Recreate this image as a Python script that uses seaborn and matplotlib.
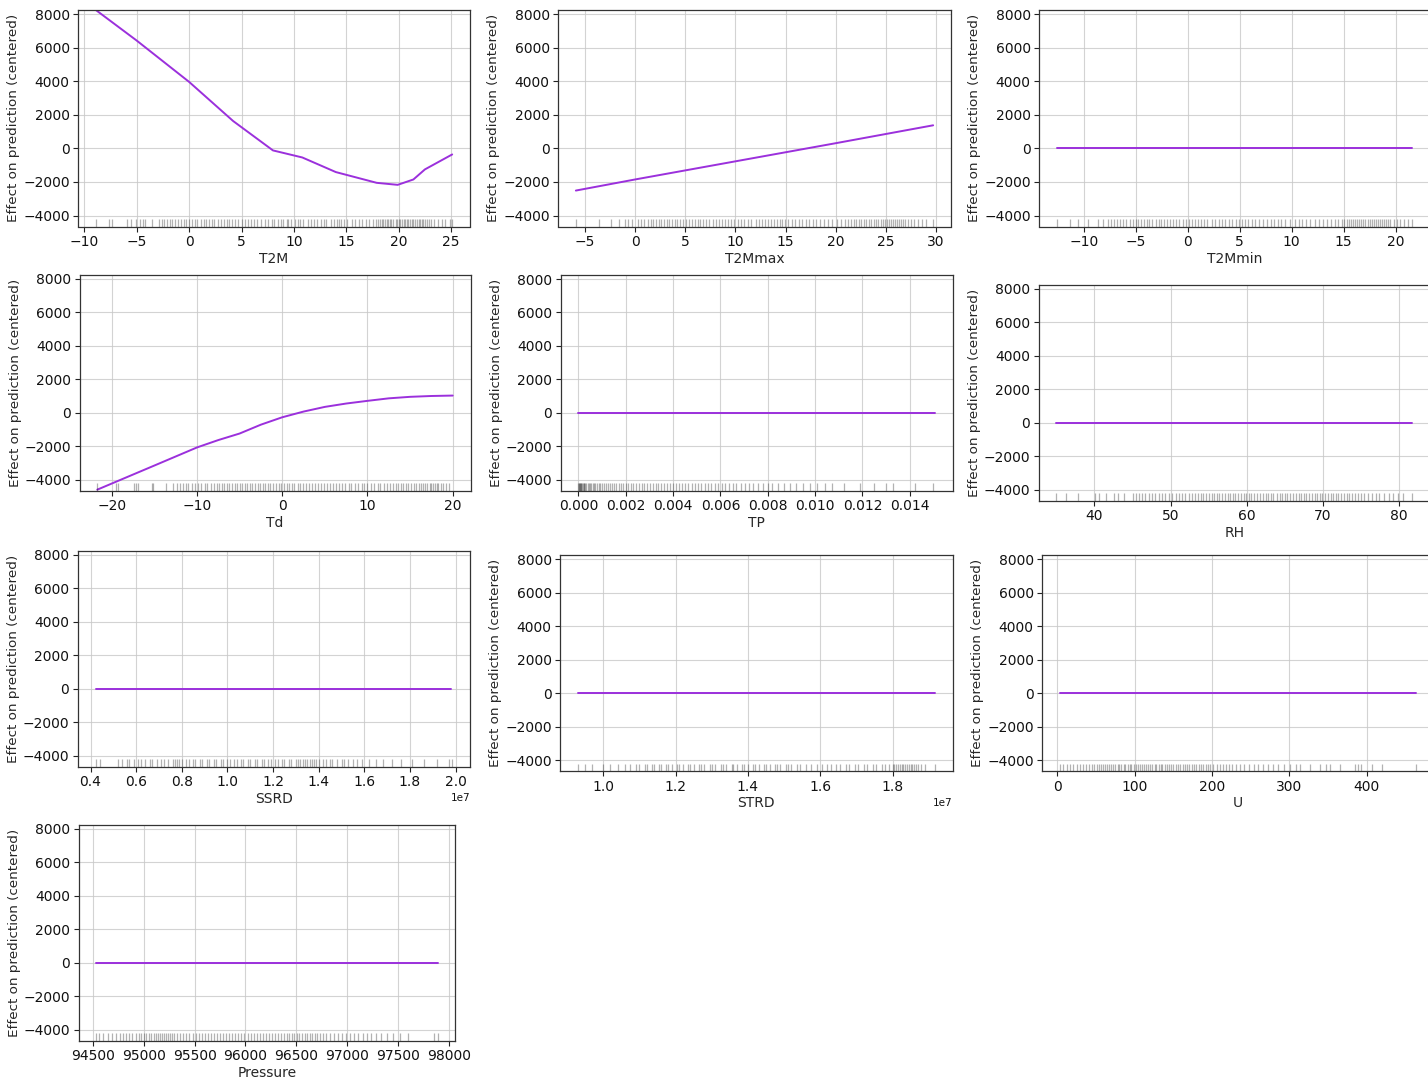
import numpy as np
import pandas as pd
import matplotlib
matplotlib.use("Agg")
import matplotlib.pyplot as plt
import seaborn as sns

# ---------------- data ----------------
features = ["T2M", "T2Mmax", "T2Mmin", "Td", "TP", "RH", "SSRD", "STRD", "U", "Pressure"]

T2M_x = [-8.9, -5.0, 0.0, 4.2, 8.0, 10.8, 14.0, 17.9, 19.9, 21.4, 22.5, 25.1]
T2M_y = [8240, 6420, 3960, 1630, -120, -540, -1410, -2050, -2170, -1850, -1250, -360]

T2Mmax_x = [-5.9, 0.0, 10.0, 20.0, 29.7]
T2Mmax_y = [-2510, -1850, -770, 310, 1375]

T2Mmin_x = [-12.6, 21.6]
T2Mmin_y = [0, 0]

Td_x = [-21.7, -15.0, -10.0, -7.5, -5.0, -2.5, 0.0, 2.5, 5.0, 7.5, 10.0, 12.5, 15.0, 17.5, 20.0]
Td_y = [-4600, -3160, -2080, -1640, -1250, -720, -280, 60, 340, 540, 700, 850, 940, 990, 1015]

TP_x = [0.0, 0.01505]
TP_y = [0, 0]

RH_x = [35.0, 81.7]
RH_y = [0, 0]

SSRD_x = [4.22e6, 1.978e7]
SSRD_y = [0, 0]

STRD_x = [9.30e6, 1.917e7]
STRD_y = [0, 0]

U_x = [3.4, 463.7]
U_y = [0, 0]

Pressure_x = [94530, 97893]
Pressure_y = [0, 0]

T2M_rug = [-8.9, -7.6, -7.4, -5.9, -5.5, -5.1, -4.7, -4.4, -4.2, -3.5, -2.9, -2.6, -2.4, -2.1, -1.8,
           -1.6, -1.3, -1.1, -0.8, -0.5, -0.3, 0.0, 0.3, 0.6, 0.8, 1.1, 1.4, 1.6, 1.9, 2.2, 2.4, 2.8,
           3.0, 3.3, 3.6, 3.8, 4.1, 4.4, 4.7, 5.0, 5.3, 5.6, 5.9, 6.2, 6.5, 6.9, 7.2, 7.5, 7.9, 8.1,
           8.5, 8.8, 9.0, 9.3, 9.4, 9.7, 10.1, 10.4, 10.6, 10.9, 11.3, 11.6, 11.9, 12.2, 12.6, 12.9,
           13.1, 13.5, 13.8, 14.1, 14.3, 14.5, 14.8, 15.1, 15.5, 15.8, 16.2, 16.5, 16.9, 17.2, 17.5,
           17.8, 18.0, 18.2, 18.4, 18.5, 18.7, 18.9, 19.0, 19.2, 19.3, 19.5, 19.7, 19.8, 20.0, 20.1,
           20.3, 20.5, 20.6, 20.8, 20.9, 21.1, 21.3, 21.4, 21.6, 21.7, 21.9, 22.0, 22.2, 22.3, 22.5,
           22.7, 22.9, 23.1, 23.4, 23.7, 24.1, 24.4, 24.9, 25.1]
T2Mmax_rug = [-5.9, -3.6, -2.4, -1.6, -1.0, -0.7, -0.3, 0.3, 0.6, 0.9, 1.3, 1.6, 1.8, 2.1, 2.4, 2.6,
              2.9, 3.2, 3.4, 3.7, 4.0, 4.2, 4.5, 4.8, 5.1, 5.4, 5.7, 6.0, 6.3, 6.5, 6.8, 7.1, 7.4, 7.8,
              8.1, 8.4, 8.7, 9.0, 9.3, 9.6, 9.9, 10.3, 10.6, 10.9, 11.3, 11.6, 12.0, 12.3, 12.6, 12.9,
              13.2, 13.5, 13.8, 14.1, 14.4, 14.6, 14.9, 15.2, 15.6, 15.9, 16.3, 16.6, 17.0, 17.3, 17.7,
              18.0, 18.4, 18.8, 19.2, 19.6, 20.1, 20.5, 20.9, 21.2, 21.5, 21.8, 22.0, 22.3, 22.5, 22.8,
              23.0, 23.3, 23.5, 23.8, 24.0, 24.2, 24.5, 24.7, 24.9, 25.1, 25.3, 25.5, 25.7, 25.9, 26.1,
              26.3, 26.5, 26.7, 26.9, 27.2, 27.5, 27.8, 28.2, 28.6, 29.0, 29.7]
T2Mmin_rug = [-12.6, -11.3, -10.6, -9.6, -8.6, -8.2, -7.7, -7.4, -7.1, -6.8, -6.5, -6.2, -5.9, -5.6,
              -5.3, -5.0, -4.8, -4.5, -4.2, -3.9, -3.7, -3.4, -3.1, -2.8, -2.6, -2.3, -2.0, -1.7, -1.4,
              -1.1, -0.8, -0.5, -0.2, 0.1, 0.4, 0.7, 1.0, 1.3, 1.6, 1.9, 2.3, 2.6, 3.0, 3.3, 3.6, 4.0,
              4.3, 4.6, 4.9, 5.2, 5.5, 5.8, 6.2, 6.5, 6.9, 7.2, 7.6, 8.0, 8.3, 8.7, 9.0, 9.4, 9.8,
              10.3, 10.7, 11.0, 11.4, 11.8, 12.2, 12.6, 13.0, 13.4, 13.8, 14.2, 14.5, 14.8, 15.0, 15.3,
              15.5, 15.7, 15.9, 16.1, 16.3, 16.5, 16.7, 16.9, 17.1, 17.3, 17.5, 17.7, 17.9, 18.1, 18.3,
              18.5, 18.7, 18.9, 19.1, 19.3, 19.5, 19.8, 20.1, 20.4, 20.8, 21.2, 21.6]
Td_rug = [-21.7, -19.5, -19.3, -17.4, -17.2, -16.9, -15.3, -15.2, -13.6, -12.8, -12.4, -12.0, -11.7,
          -11.3, -11.0, -10.6, -10.2, -9.9, -9.5, -9.1, -8.8, -8.4, -8.0, -7.7, -7.4, -7.1, -6.8, -6.5,
          -6.2, -5.9, -5.6, -5.3, -5.0, -4.7, -4.4, -4.1, -3.8, -3.5, -3.2, -2.9, -2.6, -2.3, -2.0,
          -1.7, -1.4, -1.1, -0.7, -0.4, -0.1, 0.2, 0.5, 0.8, 1.1, 1.4, 1.8, 2.1, 2.4, 2.8, 3.1, 3.5,
          3.8, 4.2, 4.6, 4.9, 5.3, 5.6, 6.0, 6.3, 6.7, 7.0, 7.4, 7.8, 8.1, 8.5, 8.9, 9.3, 9.6, 10.0,
          10.4, 10.8, 11.2, 11.5, 11.9, 12.3, 12.6, 13.0, 13.3, 13.6, 13.9, 14.2, 14.5, 14.8, 15.1,
          15.4, 15.7, 16.0, 16.3, 16.5, 16.8, 17.0, 17.3, 17.5, 17.7, 17.9, 18.1, 18.3, 18.6, 18.9,
          19.2, 19.6]
TP_rug = [0.0, 0.00001, 0.00003, 0.00005, 0.00007, 0.0001, 0.00012, 0.00015, 0.00018, 0.00022,
          0.00026, 0.0003, 0.00034, 0.00039, 0.00044, 0.00049, 0.00054, 0.0006, 0.00066, 0.00072,
          0.00079, 0.00086, 0.00093, 0.001, 0.00108, 0.00116, 0.00124, 0.00133, 0.00142, 0.00151,
          0.0016, 0.0017, 0.0018, 0.0019, 0.002, 0.00211, 0.00222, 0.00233, 0.00244, 0.00256,
          0.00267, 0.00279, 0.0029, 0.00302, 0.00314, 0.00326, 0.00338, 0.0035, 0.00363, 0.00375,
          0.00388, 0.004, 0.00413, 0.00426, 0.00439, 0.00452, 0.00465, 0.00478, 0.00492, 0.00505,
          0.00519, 0.00533, 0.00547, 0.00561, 0.00576, 0.0059, 0.00605, 0.0062, 0.00636, 0.00652,
          0.00668, 0.00685, 0.00702, 0.0072, 0.00739, 0.00758, 0.00778, 0.00799, 0.0082, 0.00843,
          0.00868, 0.00895, 0.0092, 0.0095, 0.0098, 0.0101, 0.0104, 0.0107, 0.0112, 0.0119, 0.0125,
          0.013, 0.0133, 0.0142, 0.015]
RH_rug = [35.0, 36.3, 37.8, 40.1, 40.6, 41.5, 42.6, 43.1, 43.9, 45.0, 45.5, 45.9, 46.3, 46.7, 47.2,
          47.6, 48.0, 48.5, 48.9, 49.3, 49.8, 50.2, 50.7, 51.1, 51.5, 51.9, 52.4, 52.8, 53.2, 53.6,
          54.0, 54.3, 54.7, 55.0, 55.4, 55.7, 56.1, 56.4, 56.8, 57.1, 57.5, 57.8, 58.2, 58.5, 58.9,
          59.2, 59.6, 59.9, 60.3, 60.6, 61.0, 61.4, 61.7, 62.1, 62.5, 62.8, 63.2, 63.5, 63.9, 64.3,
          64.6, 65.0, 65.3, 65.7, 66.1, 66.4, 66.8, 67.1, 67.5, 67.8, 68.2, 68.5, 68.9, 69.2, 69.6,
          69.9, 70.3, 70.6, 71.0, 71.3, 71.7, 72.0, 72.4, 72.7, 73.1, 73.4, 73.8, 74.2, 74.6, 75.0,
          75.4, 75.9, 76.4, 76.9, 77.4, 78.0, 78.6, 79.2, 79.9, 80.5, 81.7]
SSRD_rug = [4.23e6, 4.4e6, 5.2e6, 5.4e6, 5.6e6, 5.7e6, 5.9e6, 6.1e6, 6.2e6, 6.4e6, 6.6e6, 6.7e6,
            6.9e6, 7.1e6, 7.2e6, 7.4e6, 7.6e6, 7.7e6, 7.8e6, 7.9e6, 8.0e6, 8.2e6, 8.3e6, 8.5e6,
            8.6e6, 8.8e6, 8.9e6, 9.1e6, 9.2e6, 9.4e6, 9.5e6, 9.7e6, 9.8e6, 1.00e7, 1.01e7, 1.03e7,
            1.04e7, 1.06e7, 1.07e7, 1.09e7, 1.10e7, 1.12e7, 1.13e7, 1.15e7, 1.16e7, 1.18e7, 1.19e7,
            1.21e7, 1.22e7, 1.24e7, 1.25e7, 1.27e7, 1.28e7, 1.30e7, 1.31e7, 1.32e7, 1.33e7, 1.34e7,
            1.35e7, 1.36e7, 1.37e7, 1.38e7, 1.39e7, 1.40e7, 1.42e7, 1.43e7, 1.45e7, 1.46e7, 1.48e7,
            1.50e7, 1.51e7, 1.53e7, 1.55e7, 1.57e7, 1.59e7, 1.62e7, 1.65e7, 1.68e7, 1.72e7, 1.76e7,
            1.81e7, 1.86e7, 1.92e7, 1.97e7, 1.985e7]
STRD_rug = [9.3e6, 9.5e6, 9.7e6, 1.00e7, 1.02e7, 1.04e7, 1.06e7, 1.075e7, 1.09e7, 1.10e7, 1.115e7,
            1.12e7, 1.135e7, 1.14e7, 1.155e7, 1.16e7, 1.175e7, 1.18e7, 1.19e7, 1.205e7, 1.21e7,
            1.22e7, 1.235e7, 1.24e7, 1.25e7, 1.265e7, 1.27e7, 1.28e7, 1.295e7, 1.30e7, 1.31e7,
            1.325e7, 1.33e7, 1.34e7, 1.355e7, 1.36e7, 1.37e7, 1.385e7, 1.39e7, 1.40e7, 1.415e7,
            1.42e7, 1.43e7, 1.445e7, 1.45e7, 1.46e7, 1.475e7, 1.48e7, 1.49e7, 1.505e7, 1.51e7,
            1.52e7, 1.535e7, 1.545e7, 1.56e7, 1.575e7, 1.59e7, 1.605e7, 1.62e7, 1.63e7, 1.645e7,
            1.655e7, 1.67e7, 1.68e7, 1.695e7, 1.705e7, 1.72e7, 1.73e7, 1.745e7, 1.755e7, 1.77e7,
            1.78e7, 1.79e7, 1.80e7, 1.805e7, 1.81e7, 1.815e7, 1.82e7, 1.825e7, 1.83e7, 1.835e7,
            1.84e7, 1.845e7, 1.85e7, 1.855e7, 1.86e7, 1.865e7, 1.87e7, 1.88e7, 1.89e7, 1.917e7]
U_rug = [3.4, 8, 13, 17, 21, 25, 29, 33, 37, 41, 45, 48, 51, 54, 57, 59, 62, 64, 67, 70, 72, 75, 78,
         80, 83, 86, 88, 91, 94, 96, 99, 102, 104, 107, 110, 112, 115, 118, 120, 123, 126, 128, 131,
         134, 136, 139, 142, 144, 147, 150, 153, 156, 159, 162, 165, 168, 171, 174, 177, 180, 183,
         186, 189, 192, 195, 198, 202, 206, 210, 214, 218, 222, 226, 231, 236, 242, 248, 254, 260,
         266, 272, 279, 286, 293, 301, 309, 314, 327, 340, 347, 352, 366, 385, 389, 393, 407, 420,
         464]
Pressure_rug = [94530, 94560, 94600, 94650, 94690, 94730, 94770, 94800, 94830, 94860, 94890, 94920,
                94950, 94975, 95000, 95025, 95050, 95075, 95100, 95120, 95140, 95160, 95180, 95200,
                95220, 95240, 95260, 95280, 95300, 95330, 95360, 95390, 95420, 95450, 95480, 95510,
                95540, 95570, 95600, 95630, 95660, 95690, 95720, 95750, 95780, 95810, 95840, 95870,
                95900, 95930, 95960, 95990, 96020, 96050, 96080, 96110, 96140, 96170, 96200, 96230,
                96260, 96290, 96320, 96350, 96380, 96405, 96430, 96455, 96480, 96505, 96530, 96555,
                96580, 96605, 96630, 96655, 96680, 96705, 96730, 96760, 96790, 96830, 96870, 96910,
                96950, 96990, 97030, 97070, 97110, 97150, 97190, 97230, 97280, 97330, 97390, 97450,
                97520, 97600, 97850, 97893]

curves = {
    "T2M": (T2M_x, T2M_y, T2M_rug),
    "T2Mmax": (T2Mmax_x, T2Mmax_y, T2Mmax_rug),
    "T2Mmin": (T2Mmin_x, T2Mmin_y, T2Mmin_rug),
    "Td": (Td_x, Td_y, Td_rug),
    "TP": (TP_x, TP_y, TP_rug),
    "RH": (RH_x, RH_y, RH_rug),
    "SSRD": (SSRD_x, SSRD_y, SSRD_rug),
    "STRD": (STRD_x, STRD_y, STRD_rug),
    "U": (U_x, U_y, U_rug),
    "Pressure": (Pressure_x, Pressure_y, Pressure_rug),
}

# ---------------- layout (pixel boxes: left, right, top, bottom) ----------------
W, H = 1428, 1083
boxes = {
    "T2M": (78, 470, 10, 226.5),
    "T2Mmax": (558, 951, 10, 226.5),
    "T2Mmin": (1039, 1430, 10, 226.5),
    "Td": (79.5, 470.5, 274.5, 490.5),
    "TP": (560.5, 952.5, 275, 490.7),
    "RH": (1038.5, 1430, 284.7, 500.7),
    "SSRD": (77.7, 470, 550.7, 766.7),
    "STRD": (560, 952.7, 555.3, 771.3),
    "U": (1042, 1434, 555.3, 771.3),
    "Pressure": (78.7, 455.3, 824.7, 1040.5),
}

sns.set_style("ticks")
plt.rcParams["font.family"] = ["DejaVu Sans"]
plt.rcParams["font.size"] = 10

LINE_COLOR = "#9b30dc"

fig = plt.figure(figsize=(W / 100, H / 100), dpi=100)
fig.patch.set_facecolor("white")

for name in features:
    l, r, t, b = boxes[name]
    ax = fig.add_axes([l / W, 1 - b / H, (r - l) / W, (b - t) / H])
    xs, ys, rug = curves[name]
    sns.lineplot(x=xs, y=ys, ax=ax, color=LINE_COLOR, linewidth=1.4, sort=False)
    sns.rugplot(x=rug, ax=ax, height=0.035, color="black", alpha=0.3, linewidth=0.9,
                expand_margins=False)
    ax.set_ylim(-4650, 8240)
    ax.set_xlabel(name, fontsize=10, labelpad=2)
    ax.set_ylabel("Effect on prediction (centered)", fontsize=9.7, labelpad=2)
    ax.tick_params(axis="both", labelsize=10, length=3.5, width=0.8, colors="#222222",
                   labelcolor="#111111", pad=2.5)
    ax.grid(True, color="#c8c8c8", linewidth=0.8, alpha=0.8)
    ax.set_axisbelow(True)
    for sp in ax.spines.values():
        sp.set_color("#333333")
        sp.set_linewidth(0.9)
    ax.xaxis.get_offset_text().set_fontsize(7.5)

fig.savefig("out.png", dpi=100, facecolor="white")
